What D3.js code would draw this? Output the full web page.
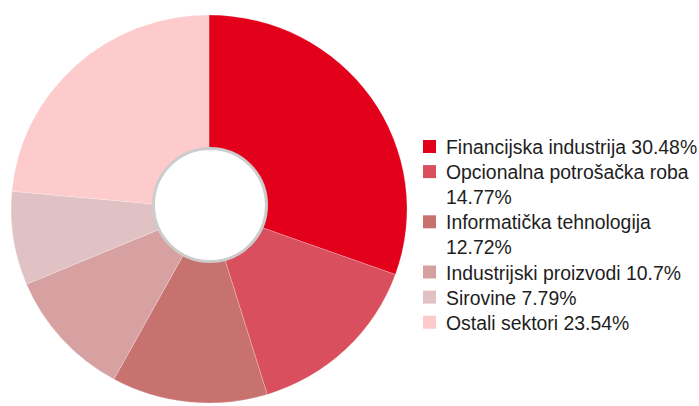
<!DOCTYPE html>
<html>
<head>
<meta charset="utf-8">
<script src="https://cdn.jsdelivr.net/npm/d3@7"></script>
<style>
  body { margin: 0; background: #fff; }
  svg { display: block; font-family: "Liberation Sans", Arial, sans-serif; }
</style>
</head>
<body>
<svg id="chart" width="699" height="406"></svg>
<script>
const sectors = ["Financijska industrija", "Opcionalna potrošačka roba", "Informatička tehnologija",
  "Industrijski proizvodi", "Sirovine", "Ostali sektori"];
const shares = [30.48, 14.77, 12.72, 10.7, 7.79, 23.54];
const colors = ["#e2001a", "#d94f5d", "#c87270", "#d8a1a1", "#e0c2c5", "#fdcbcb"];

const svg = d3.select("#chart");
const cx = 209, cy = 209, rOuter = 198, squash = 194 / 198;

const pie = d3.pie().sort(null).value(d => d.v);
const arc = d3.arc().innerRadius(0).outerRadius(rOuter);
const data = sectors.map((s, i) => ({name: s, v: shares[i], c: colors[i]}));

const g = svg.append("g").attr("transform", `translate(${cx},${cy}) scale(1,${squash})`);
g.selectAll("path")
  .data(pie(data))
  .enter().append("path")
    .attr("d", arc)
    .attr("fill", d => d.data.c)
    .attr("stroke", "rgba(255,255,255,0.35)")
    .attr("stroke-width", 0.6);

// inner hole with grey ring
svg.append("circle")
  .attr("cx", 210).attr("cy", 205).attr("r", 56.5)
  .attr("fill", "#fff")
  .attr("stroke", "#cccccc")
  .attr("stroke-width", 3);

// legend
const fs = 19.4, lx = 423, tx = 446, firstBase = 154, lineH = 25.1, maxW = 256, box = 13;
const legend = svg.append("g");
let line = 0;
data.forEach(d => {
  const label = `${d.name} ${d.v}%`;
  const words = label.split(" ");
  const lines = [];
  let cur = "";
  const probe = legend.append("text").attr("font-size", fs);
  words.forEach(w => {
    const test = cur ? cur + " " + w : w;
    probe.text(test);
    if (probe.node().getComputedTextLength() > maxW && cur) {
      lines.push(cur);
      cur = w;
    } else cur = test;
  });
  lines.push(cur);
  probe.remove();

  const base = firstBase + line * lineH;
  legend.append("rect")
    .attr("x", lx).attr("y", base - 14)
    .attr("width", box).attr("height", box)
    .attr("fill", d.c);
  lines.forEach((t, k) => {
    legend.append("text")
      .attr("x", tx).attr("y", base + k * lineH)
      .attr("font-size", fs)
      .attr("fill", "#1e1e1e")
      .text(t);
  });
  line += lines.length;
});
</script>
</body>
</html>
